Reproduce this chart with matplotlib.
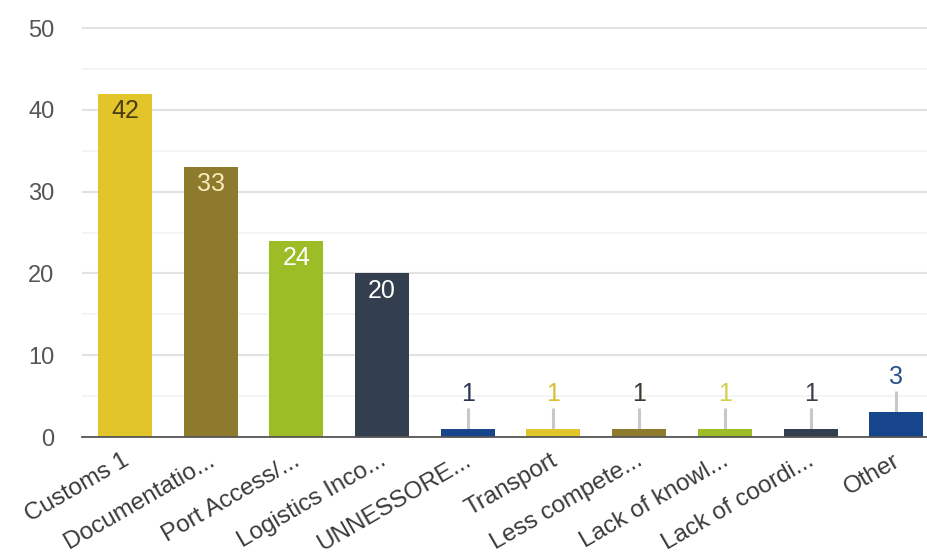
import matplotlib.pyplot as plt
from matplotlib.ticker import MultipleLocator
from matplotlib.transforms import ScaledTranslation

categories = ['Customs 1', 'Documentatio...', 'Port Access/...', 'Logistics Inco...',
              'UNNESSORE...', 'Transport', 'Less compete...', 'Lack of knowl...',
              'Lack of coordi...', 'Other']
counts = [42, 33, 24, 20, 1, 1, 1, 1, 1, 3]
colors = ['#E2C42B', '#8E7A2C', '#9CBD26', '#333F4E', '#16458C',
          '#E2C42B', '#8E7A2C', '#9CBD26', '#333F4E', '#16458C']
inside_text = ['#4A3E10', '#F6EBB8', '#FFFFFF', '#FFFFFF']
above_text = ['#2A3550', '#D6C03A', '#3E3A30', '#D2D04A', '#3A3F48', '#2A4F8A']

plt.rcParams['font.family'] = ['Liberation Sans', 'DejaVu Sans']

fig = plt.figure(figsize=(9.28, 5.57), dpi=100)
ax = fig.add_axes([0.0884, 0.2154, 0.9116, 0.737])

x = list(range(len(categories)))
ax.bar(x, counts, width=0.63, color=colors, zorder=3)

for i, v in enumerate(counts):
    if v >= 10:
        ax.text(i, v - 2.1, str(v), ha='center', va='center', fontsize=18,
                color=inside_text[i], zorder=4)
    else:
        ax.plot([i, i], [v, v + 2.6], color='#C8C8C8', lw=2.2, zorder=2,
                solid_capstyle='butt')
        ax.text(i, v + 4.3, str(v), ha='center', va='center', fontsize=18,
                color=above_text[i - 4], zorder=4)

ax.set_xlim(-0.5, 9.37)
ax.set_ylim(0, 50.2)
ax.yaxis.set_major_locator(MultipleLocator(10))
ax.yaxis.set_minor_locator(MultipleLocator(5))
ax.grid(axis='y', which='major', color='#E2E2E2', lw=1.5, zorder=0)
ax.grid(axis='y', which='minor', color='#F2F2F2', lw=1.2, zorder=0)
for s in ['top', 'right', 'left']:
    ax.spines[s].set_visible(False)
ax.spines['bottom'].set_color('#555555')
ax.spines['bottom'].set_linewidth(1.3)
ax.spines['bottom'].set_zorder(5)
ax.tick_params(axis='both', which='both', length=0)
ax.tick_params(axis='y', labelsize=17, labelcolor='#555555', pad=20)
ax.set_xticks(x)
ax.set_xticklabels(categories, rotation=30, ha='right', va='center',
                   rotation_mode='anchor', fontsize=17.5, color='#3A3A3A')
ax.tick_params(axis='x', pad=16)
shift = ScaledTranslation(0.02, 0, fig.dpi_scale_trans)
for lbl in ax.get_xticklabels():
    lbl.set_transform(lbl.get_transform() + shift)

fig.savefig('out.png', dpi=100)
